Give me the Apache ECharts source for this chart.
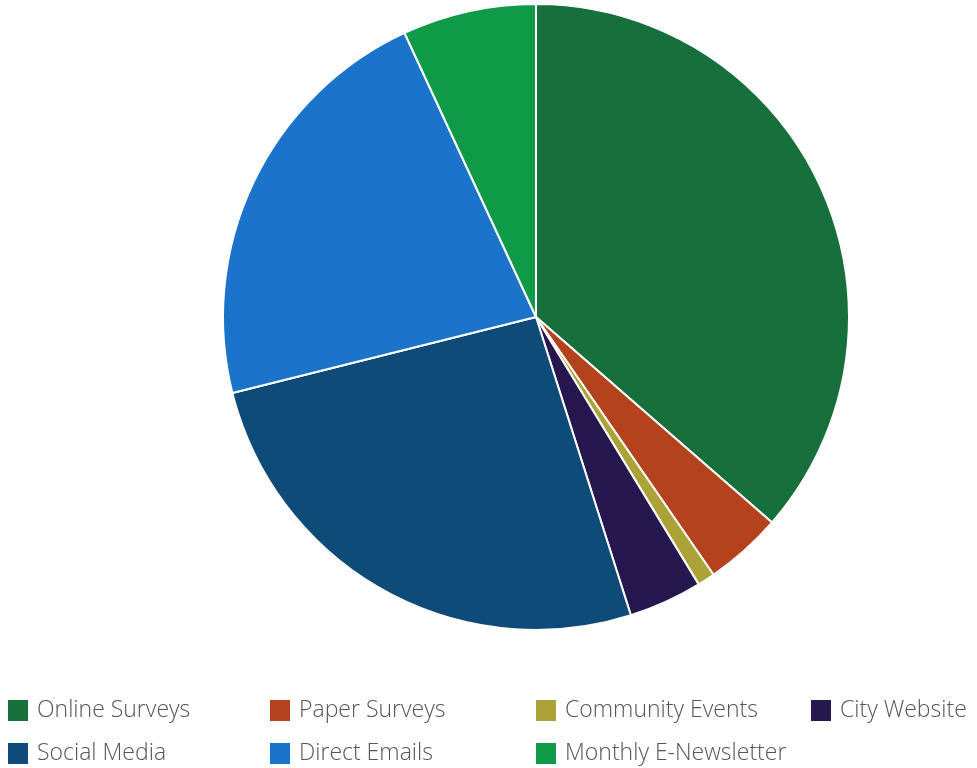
<!DOCTYPE html>
<html><head><meta charset="utf-8">
<script src="https://cdn.jsdelivr.net/npm/echarts@6/dist/echarts.min.js"></script>
<style>html,body{margin:0;padding:0;background:#fff}#c{width:977px;height:768px}</style>
</head><body><div id="c"></div>
<script>
const categories = ['Online Surveys','Paper Surveys','Community Events','City Website','Social Media','Direct Emails','Monthly E-Newsletter'];
const values = [36.4, 4.0, 0.9, 3.8, 26.0, 22.0, 6.9];
const colors = ['#176f3b','#b3421d','#aba337','#26184f','#0f4b78','#1b74c9','#0e9a47'];
const legendPos = [[6,698],[268,698],[534,698],[809,698],[6,741],[268,741],[534,741]];

const chart = echarts.init(document.getElementById('c'));
chart.setOption({
  animation:false,
  color: colors,
  legend: categories.map((name,i)=>({
    data:[name], left: legendPos[i][0], top: legendPos[i][1],
    itemWidth:22, itemHeight:23, itemGap:0, padding:0,
    icon:'rect',
    textStyle:{fontFamily:'Open Sans', fontSize:23, fontWeight:300, color:'#555', padding:[0,0,0,3]}
  })),
  series:[{
    type:'pie', center:[536,317], radius:[0,313], startAngle:90, clockwise:true,
    label:{show:false}, labelLine:{show:false},
    itemStyle:{borderColor:'#fff', borderWidth:2},
    data: categories.map((n,i)=>({name:n, value:values[i]}))
  }]
});
</script></body></html>
